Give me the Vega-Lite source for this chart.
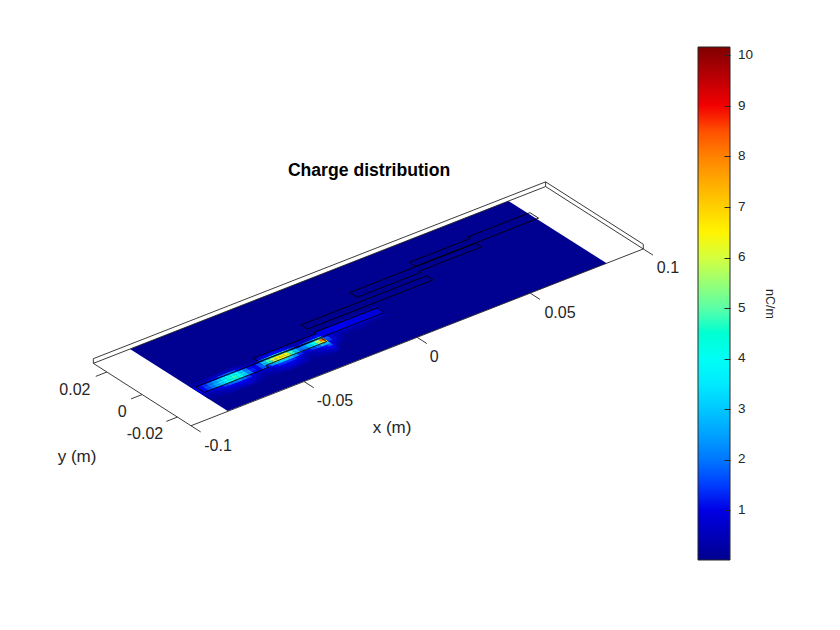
{"$schema":"https://vega.github.io/schema/vega-lite/v6.json","width":840,"height":630,"padding":0,"autosize":"none","background":"white","config":{"view":{"stroke":null}},
"title":{"text":"Charge distribution","font":"Liberation Sans","fontSize":17.6,"fontWeight":"bold","color":"black","anchor":"middle","frame":"group","dx":-51,"dy":184},
"data":{"values":[
{"k":"p","x":0,"y":0,"q":0.03},
{"k":"c","x":-0.0825,"y":-0.016,"q":0.2},{"k":"c","x":-0.0825,"y":-0.0145,"q":0.3},{"k":"c","x":-0.0825,"y":-0.013,"q":0.5},{"k":"c","x":-0.0825,"y":-0.0115,"q":1},{"k":"c","x":-0.0825,"y":-0.01,"q":1},{"k":"c","x":-0.0825,"y":-0.0085,"q":0.9},{"k":"c","x":-0.0825,"y":-0.007,"q":0.4},{"k":"c","x":-0.0825,"y":-0.0055,"q":0.2},
{"k":"c","x":-0.081,"y":-0.016,"q":0.2},{"k":"c","x":-0.081,"y":-0.0145,"q":0.3},{"k":"c","x":-0.081,"y":-0.013,"q":0.6},{"k":"c","x":-0.081,"y":-0.0115,"q":1.1},{"k":"c","x":-0.081,"y":-0.01,"q":1.2},{"k":"c","x":-0.081,"y":-0.0085,"q":1.1},{"k":"c","x":-0.081,"y":-0.007,"q":0.5},{"k":"c","x":-0.081,"y":-0.0055,"q":0.2},
{"k":"c","x":-0.079,"y":-0.0175,"q":0.2},{"k":"c","x":-0.079,"y":-0.016,"q":0.3},{"k":"c","x":-0.079,"y":-0.0145,"q":0.4},{"k":"c","x":-0.079,"y":-0.013,"q":0.7},{"k":"c","x":-0.079,"y":-0.0115,"q":1.5},{"k":"c","x":-0.079,"y":-0.01,"q":1.6},{"k":"c","x":-0.079,"y":-0.0085,"q":1.4},{"k":"c","x":-0.079,"y":-0.007,"q":0.6},{"k":"c","x":-0.079,"y":-0.0055,"q":0.2},
{"k":"c","x":-0.077,"y":-0.0175,"q":0.2},{"k":"c","x":-0.077,"y":-0.016,"q":0.4},{"k":"c","x":-0.077,"y":-0.0145,"q":0.5},{"k":"c","x":-0.077,"y":-0.013,"q":1},{"k":"c","x":-0.077,"y":-0.0115,"q":2},{"k":"c","x":-0.077,"y":-0.01,"q":2.1},{"k":"c","x":-0.077,"y":-0.0085,"q":1.9},{"k":"c","x":-0.077,"y":-0.007,"q":0.8},{"k":"c","x":-0.077,"y":-0.0055,"q":0.3},
{"k":"c","x":-0.075,"y":-0.0175,"q":0.3},{"k":"c","x":-0.075,"y":-0.016,"q":0.5},{"k":"c","x":-0.075,"y":-0.0145,"q":0.7},{"k":"c","x":-0.075,"y":-0.013,"q":1.2},{"k":"c","x":-0.075,"y":-0.0115,"q":2.6},{"k":"c","x":-0.075,"y":-0.01,"q":2.7},{"k":"c","x":-0.075,"y":-0.0085,"q":2.4},{"k":"c","x":-0.075,"y":-0.007,"q":1.1},{"k":"c","x":-0.075,"y":-0.0055,"q":0.4},
{"k":"c","x":-0.073,"y":-0.0175,"q":0.4},{"k":"c","x":-0.073,"y":-0.016,"q":0.6},{"k":"c","x":-0.073,"y":-0.0145,"q":0.9},{"k":"c","x":-0.073,"y":-0.013,"q":1.5},{"k":"c","x":-0.073,"y":-0.0115,"q":3.1},{"k":"c","x":-0.073,"y":-0.01,"q":3.3},{"k":"c","x":-0.073,"y":-0.0085,"q":3},{"k":"c","x":-0.073,"y":-0.007,"q":1.3},{"k":"c","x":-0.073,"y":-0.0055,"q":0.5},
{"k":"c","x":-0.071,"y":-0.0175,"q":0.4},{"k":"c","x":-0.071,"y":-0.016,"q":0.7},{"k":"c","x":-0.071,"y":-0.0145,"q":1},{"k":"c","x":-0.071,"y":-0.013,"q":1.8},{"k":"c","x":-0.071,"y":-0.0115,"q":3.7},{"k":"c","x":-0.071,"y":-0.01,"q":3.9},{"k":"c","x":-0.071,"y":-0.0085,"q":3.5},{"k":"c","x":-0.071,"y":-0.007,"q":1.6},{"k":"c","x":-0.071,"y":-0.0055,"q":0.6},
{"k":"c","x":-0.069,"y":-0.0175,"q":0.5},{"k":"c","x":-0.069,"y":-0.016,"q":0.8},{"k":"c","x":-0.069,"y":-0.0145,"q":1.1},{"k":"c","x":-0.069,"y":-0.013,"q":2},{"k":"c","x":-0.069,"y":-0.0115,"q":4.2},{"k":"c","x":-0.069,"y":-0.01,"q":4.4},{"k":"c","x":-0.069,"y":-0.0085,"q":4},{"k":"c","x":-0.069,"y":-0.007,"q":1.8},{"k":"c","x":-0.069,"y":-0.0055,"q":0.7},
{"k":"c","x":-0.067,"y":-0.0175,"q":0.5},{"k":"c","x":-0.067,"y":-0.016,"q":0.8},{"k":"c","x":-0.067,"y":-0.0145,"q":1.2},{"k":"c","x":-0.067,"y":-0.013,"q":2.2},{"k":"c","x":-0.067,"y":-0.0115,"q":4.5},{"k":"c","x":-0.067,"y":-0.01,"q":4.7},{"k":"c","x":-0.067,"y":-0.0085,"q":4.2},{"k":"c","x":-0.067,"y":-0.007,"q":1.9},{"k":"c","x":-0.067,"y":-0.0055,"q":0.7},
{"k":"c","x":-0.065,"y":-0.0175,"q":0.5},{"k":"c","x":-0.065,"y":-0.016,"q":0.8},{"k":"c","x":-0.065,"y":-0.0145,"q":1.1},{"k":"c","x":-0.065,"y":-0.013,"q":1.9},{"k":"c","x":-0.065,"y":-0.0115,"q":4},{"k":"c","x":-0.065,"y":-0.01,"q":4.2},{"k":"c","x":-0.065,"y":-0.0085,"q":3.8},{"k":"c","x":-0.065,"y":-0.007,"q":1.7},{"k":"c","x":-0.065,"y":-0.0055,"q":0.6},
{"k":"c","x":-0.063,"y":-0.0175,"q":0.4},{"k":"c","x":-0.063,"y":-0.016,"q":0.6},{"k":"c","x":-0.063,"y":-0.0145,"q":0.9},{"k":"c","x":-0.063,"y":-0.013,"q":1.5},{"k":"c","x":-0.063,"y":-0.0115,"q":3.1},{"k":"c","x":-0.063,"y":-0.01,"q":3.3},{"k":"c","x":-0.063,"y":-0.0085,"q":3},{"k":"c","x":-0.063,"y":-0.007,"q":1.3},{"k":"c","x":-0.063,"y":-0.0055,"q":0.5},
{"k":"c","x":-0.061,"y":-0.0175,"q":0.2},{"k":"c","x":-0.061,"y":-0.016,"q":0.4},{"k":"c","x":-0.061,"y":-0.0145,"q":0.6},{"k":"c","x":-0.061,"y":-0.013,"q":1},{"k":"c","x":-0.061,"y":-0.0115,"q":2.1},{"k":"c","x":-0.061,"y":-0.01,"q":2.2},{"k":"c","x":-0.061,"y":-0.0085,"q":2},{"k":"c","x":-0.061,"y":-0.007,"q":0.9},{"k":"c","x":-0.061,"y":-0.0055,"q":0.3},
{"k":"c","x":-0.059,"y":-0.0175,"q":0.2},{"k":"c","x":-0.059,"y":-0.016,"q":0.3},{"k":"c","x":-0.059,"y":-0.0145,"q":0.4},{"k":"c","x":-0.059,"y":-0.013,"q":0.6},{"k":"c","x":-0.059,"y":-0.0115,"q":1.3},{"k":"c","x":-0.059,"y":-0.01,"q":1.4},{"k":"c","x":-0.059,"y":-0.0085,"q":1.3},{"k":"c","x":-0.059,"y":-0.007,"q":0.6},{"k":"c","x":-0.059,"y":-0.0055,"q":0.2},
{"k":"c","x":-0.057,"y":-0.016,"q":0.2},{"k":"c","x":-0.057,"y":-0.0145,"q":0.3},{"k":"c","x":-0.057,"y":-0.013,"q":0.6},{"k":"c","x":-0.057,"y":-0.0115,"q":1.1},{"k":"c","x":-0.057,"y":-0.01,"q":1.2},{"k":"c","x":-0.057,"y":-0.0085,"q":1.1},{"k":"c","x":-0.057,"y":-0.007,"q":0.5},{"k":"c","x":-0.057,"y":-0.0055,"q":0.2},
{"k":"c","x":-0.055,"y":-0.0175,"q":0.2},{"k":"c","x":-0.055,"y":-0.016,"q":0.3},{"k":"c","x":-0.055,"y":-0.0145,"q":0.5},{"k":"c","x":-0.055,"y":-0.013,"q":0.8},{"k":"c","x":-0.055,"y":-0.0115,"q":1.7},{"k":"c","x":-0.055,"y":-0.01,"q":1.8},{"k":"c","x":-0.055,"y":-0.0085,"q":1.6},{"k":"c","x":-0.055,"y":-0.007,"q":0.7},{"k":"c","x":-0.055,"y":-0.0055,"q":0.3},
{"k":"c","x":-0.053,"y":-0.0175,"q":0.2},{"k":"c","x":-0.053,"y":-0.016,"q":0.4},{"k":"c","x":-0.053,"y":-0.0145,"q":0.5},{"k":"c","x":-0.053,"y":-0.013,"q":0.7},{"k":"c","x":-0.053,"y":-0.0115,"q":1.4},{"k":"c","x":-0.053,"y":-0.01,"q":2.9},{"k":"c","x":-0.053,"y":-0.0085,"q":3},{"k":"c","x":-0.053,"y":-0.007,"q":1.8},{"k":"c","x":-0.053,"y":-0.0055,"q":0.6},{"k":"c","x":-0.053,"y":-0.004,"q":0.3},
{"k":"c","x":-0.051,"y":-0.0175,"q":0.3},{"k":"c","x":-0.051,"y":-0.016,"q":0.6},{"k":"c","x":-0.051,"y":-0.0145,"q":0.8},{"k":"c","x":-0.051,"y":-0.013,"q":1.1},{"k":"c","x":-0.051,"y":-0.0115,"q":2.3},{"k":"c","x":-0.051,"y":-0.01,"q":4.6},{"k":"c","x":-0.051,"y":-0.0085,"q":4.8},{"k":"c","x":-0.051,"y":-0.007,"q":2.9},{"k":"c","x":-0.051,"y":-0.0055,"q":1},{"k":"c","x":-0.051,"y":-0.004,"q":0.5},
{"k":"c","x":-0.049,"y":-0.0175,"q":0.4},{"k":"c","x":-0.049,"y":-0.016,"q":0.7},{"k":"c","x":-0.049,"y":-0.0145,"q":1},{"k":"c","x":-0.049,"y":-0.013,"q":1.4},{"k":"c","x":-0.049,"y":-0.0115,"q":2.8},{"k":"c","x":-0.049,"y":-0.01,"q":5.7},{"k":"c","x":-0.049,"y":-0.0085,"q":6},{"k":"c","x":-0.049,"y":-0.007,"q":3.6},{"k":"c","x":-0.049,"y":-0.0055,"q":1.2},{"k":"c","x":-0.049,"y":-0.004,"q":0.6},
{"k":"c","x":-0.047,"y":-0.0175,"q":0.5},{"k":"c","x":-0.047,"y":-0.016,"q":0.8},{"k":"c","x":-0.047,"y":-0.0145,"q":1.1},{"k":"c","x":-0.047,"y":-0.013,"q":1.5},{"k":"c","x":-0.047,"y":-0.0115,"q":3.1},{"k":"c","x":-0.047,"y":-0.01,"q":6.2},{"k":"c","x":-0.047,"y":-0.0085,"q":6.5},{"k":"c","x":-0.047,"y":-0.007,"q":3.9},{"k":"c","x":-0.047,"y":-0.0055,"q":1.3},{"k":"c","x":-0.047,"y":-0.004,"q":0.7},
{"k":"c","x":-0.045,"y":-0.0175,"q":0.5},{"k":"c","x":-0.045,"y":-0.016,"q":0.8},{"k":"c","x":-0.045,"y":-0.0145,"q":1.1},{"k":"c","x":-0.045,"y":-0.013,"q":1.5},{"k":"c","x":-0.045,"y":-0.0115,"q":3.1},{"k":"c","x":-0.045,"y":-0.01,"q":6.4},{"k":"c","x":-0.045,"y":-0.0085,"q":6.7},{"k":"c","x":-0.045,"y":-0.007,"q":4},{"k":"c","x":-0.045,"y":-0.0055,"q":1.3},{"k":"c","x":-0.045,"y":-0.004,"q":0.7},
{"k":"c","x":-0.043,"y":-0.0175,"q":0.4},{"k":"c","x":-0.043,"y":-0.016,"q":0.7},{"k":"c","x":-0.043,"y":-0.0145,"q":1},{"k":"c","x":-0.043,"y":-0.013,"q":1.4},{"k":"c","x":-0.043,"y":-0.0115,"q":2.9},{"k":"c","x":-0.043,"y":-0.01,"q":5.9},{"k":"c","x":-0.043,"y":-0.0085,"q":6.2},{"k":"c","x":-0.043,"y":-0.007,"q":3.7},{"k":"c","x":-0.043,"y":-0.0055,"q":1.2},{"k":"c","x":-0.043,"y":-0.004,"q":0.6},
{"k":"c","x":-0.041,"y":-0.0175,"q":0.3},{"k":"c","x":-0.041,"y":-0.016,"q":0.6},{"k":"c","x":-0.041,"y":-0.0145,"q":0.8},{"k":"c","x":-0.041,"y":-0.013,"q":1.1},{"k":"c","x":-0.041,"y":-0.0115,"q":2.3},{"k":"c","x":-0.041,"y":-0.01,"q":4.6},{"k":"c","x":-0.041,"y":-0.0085,"q":4.8},{"k":"c","x":-0.041,"y":-0.007,"q":2.9},{"k":"c","x":-0.041,"y":-0.0055,"q":1},{"k":"c","x":-0.041,"y":-0.004,"q":0.5},
{"k":"c","x":-0.039,"y":-0.0175,"q":0.2},{"k":"c","x":-0.039,"y":-0.016,"q":0.4},{"k":"c","x":-0.039,"y":-0.0145,"q":0.5},{"k":"c","x":-0.039,"y":-0.013,"q":0.7},{"k":"c","x":-0.039,"y":-0.0115,"q":1.4},{"k":"c","x":-0.039,"y":-0.01,"q":2.9},{"k":"c","x":-0.039,"y":-0.0085,"q":3},{"k":"c","x":-0.039,"y":-0.007,"q":1.8},{"k":"c","x":-0.039,"y":-0.0055,"q":0.6},{"k":"c","x":-0.039,"y":-0.004,"q":0.3},
{"k":"c","x":-0.037,"y":-0.016,"q":0.2},{"k":"c","x":-0.037,"y":-0.0145,"q":0.3},{"k":"c","x":-0.037,"y":-0.013,"q":0.5},{"k":"c","x":-0.037,"y":-0.0115,"q":0.9},{"k":"c","x":-0.037,"y":-0.01,"q":1.9},{"k":"c","x":-0.037,"y":-0.0085,"q":2},{"k":"c","x":-0.037,"y":-0.007,"q":1.2},{"k":"c","x":-0.037,"y":-0.0055,"q":0.4},{"k":"c","x":-0.037,"y":-0.004,"q":0.2},
{"k":"c","x":-0.035,"y":-0.0175,"q":0.2},{"k":"c","x":-0.035,"y":-0.016,"q":0.3},{"k":"c","x":-0.035,"y":-0.0145,"q":0.4},{"k":"c","x":-0.035,"y":-0.013,"q":0.5},{"k":"c","x":-0.035,"y":-0.0115,"q":1.1},{"k":"c","x":-0.035,"y":-0.01,"q":2.2},{"k":"c","x":-0.035,"y":-0.0085,"q":2.3},{"k":"c","x":-0.035,"y":-0.007,"q":1.4},{"k":"c","x":-0.035,"y":-0.0055,"q":0.5},{"k":"c","x":-0.035,"y":-0.004,"q":0.2},
{"k":"c","x":-0.033,"y":-0.0175,"q":0.2},{"k":"c","x":-0.033,"y":-0.016,"q":0.4},{"k":"c","x":-0.033,"y":-0.0145,"q":0.5},{"k":"c","x":-0.033,"y":-0.013,"q":0.7},{"k":"c","x":-0.033,"y":-0.0115,"q":1.5},{"k":"c","x":-0.033,"y":-0.01,"q":3},{"k":"c","x":-0.033,"y":-0.0085,"q":3.2},{"k":"c","x":-0.033,"y":-0.007,"q":1.9},{"k":"c","x":-0.033,"y":-0.0055,"q":0.6},{"k":"c","x":-0.033,"y":-0.004,"q":0.3},
{"k":"c","x":-0.031,"y":-0.0175,"q":0.3},{"k":"c","x":-0.031,"y":-0.016,"q":0.5},{"k":"c","x":-0.031,"y":-0.0145,"q":0.7},{"k":"c","x":-0.031,"y":-0.013,"q":0.9},{"k":"c","x":-0.031,"y":-0.0115,"q":1.9},{"k":"c","x":-0.031,"y":-0.01,"q":3.8},{"k":"c","x":-0.031,"y":-0.0085,"q":4},{"k":"c","x":-0.031,"y":-0.007,"q":2.4},{"k":"c","x":-0.031,"y":-0.0055,"q":0.8},{"k":"c","x":-0.031,"y":-0.004,"q":0.4},
{"k":"c","x":-0.029,"y":-0.0175,"q":0.4},{"k":"c","x":-0.029,"y":-0.016,"q":0.7},{"k":"c","x":-0.029,"y":-0.0145,"q":1},{"k":"c","x":-0.029,"y":-0.013,"q":1.3},{"k":"c","x":-0.029,"y":-0.0115,"q":2.7},{"k":"c","x":-0.029,"y":-0.01,"q":5.5},{"k":"c","x":-0.029,"y":-0.0085,"q":5.8},{"k":"c","x":-0.029,"y":-0.007,"q":3.5},{"k":"c","x":-0.029,"y":-0.0055,"q":1.2},{"k":"c","x":-0.029,"y":-0.004,"q":0.6},
{"k":"c","x":-0.027,"y":-0.0175,"q":0.4},{"k":"c","x":-0.027,"y":-0.016,"q":0.8},{"k":"c","x":-0.027,"y":-0.0145,"q":1.1},{"k":"c","x":-0.027,"y":-0.013,"q":1.6},{"k":"c","x":-0.027,"y":-0.0115,"q":2.8},{"k":"c","x":-0.027,"y":-0.01,"q":6.8},{"k":"c","x":-0.027,"y":-0.0085,"q":8.2},{"k":"c","x":-0.027,"y":-0.007,"q":4.2},{"k":"c","x":-0.027,"y":-0.0055,"q":1.3},{"k":"c","x":-0.027,"y":-0.004,"q":0.6},
{"k":"c","x":-0.025,"y":-0.0145,"q":0.5},{"k":"c","x":-0.025,"y":-0.013,"q":0.7},{"k":"c","x":-0.025,"y":-0.0115,"q":1},{"k":"c","x":-0.025,"y":-0.01,"q":1.5},{"k":"c","x":-0.025,"y":-0.0085,"q":1.7},{"k":"c","x":-0.025,"y":-0.007,"q":1.3},{"k":"c","x":-0.025,"y":-0.0055,"q":1.1},{"k":"c","x":-0.025,"y":-0.004,"q":1.1},
{"k":"c","x":-0.023,"y":-0.013,"q":0.4},{"k":"c","x":-0.023,"y":-0.0115,"q":0.6},{"k":"c","x":-0.023,"y":-0.01,"q":0.8},{"k":"c","x":-0.023,"y":-0.0085,"q":0.8},{"k":"c","x":-0.023,"y":-0.007,"q":0.8},{"k":"c","x":-0.023,"y":-0.0055,"q":1.1},{"k":"c","x":-0.023,"y":-0.004,"q":1.1},
{"k":"c","x":-0.021,"y":-0.013,"q":0.2},{"k":"c","x":-0.021,"y":-0.0115,"q":0.3},{"k":"c","x":-0.021,"y":-0.01,"q":0.5},{"k":"c","x":-0.021,"y":-0.0085,"q":0.6},{"k":"c","x":-0.021,"y":-0.007,"q":0.8},{"k":"c","x":-0.021,"y":-0.0055,"q":1.2},{"k":"c","x":-0.021,"y":-0.004,"q":1.2},
{"k":"c","x":-0.019,"y":-0.01,"q":0.2},{"k":"c","x":-0.019,"y":-0.0085,"q":0.4},{"k":"c","x":-0.019,"y":-0.007,"q":1.1},{"k":"c","x":-0.019,"y":-0.0055,"q":1.2},{"k":"c","x":-0.019,"y":-0.004,"q":1.2},{"k":"c","x":-0.019,"y":-0.0025,"q":0.4},
{"k":"c","x":-0.017,"y":-0.01,"q":0.2},{"k":"c","x":-0.017,"y":-0.0085,"q":0.4},{"k":"c","x":-0.017,"y":-0.007,"q":1.1},{"k":"c","x":-0.017,"y":-0.0055,"q":1.2},{"k":"c","x":-0.017,"y":-0.004,"q":1.2},{"k":"c","x":-0.017,"y":-0.0025,"q":0.4},
{"k":"c","x":-0.015,"y":-0.01,"q":0.2},{"k":"c","x":-0.015,"y":-0.0085,"q":0.4},{"k":"c","x":-0.015,"y":-0.007,"q":1.1},{"k":"c","x":-0.015,"y":-0.0055,"q":1.2},{"k":"c","x":-0.015,"y":-0.004,"q":1.2},{"k":"c","x":-0.015,"y":-0.0025,"q":0.4},
{"k":"c","x":-0.013,"y":-0.01,"q":0.2},{"k":"c","x":-0.013,"y":-0.0085,"q":0.4},{"k":"c","x":-0.013,"y":-0.007,"q":1},{"k":"c","x":-0.013,"y":-0.0055,"q":1.1},{"k":"c","x":-0.013,"y":-0.004,"q":1.1},{"k":"c","x":-0.013,"y":-0.0025,"q":0.4},
{"k":"c","x":-0.011,"y":-0.01,"q":0.2},{"k":"c","x":-0.011,"y":-0.0085,"q":0.4},{"k":"c","x":-0.011,"y":-0.007,"q":1},{"k":"c","x":-0.011,"y":-0.0055,"q":1.1},{"k":"c","x":-0.011,"y":-0.004,"q":1.1},{"k":"c","x":-0.011,"y":-0.0025,"q":0.4},
{"k":"c","x":-0.009,"y":-0.01,"q":0.2},{"k":"c","x":-0.009,"y":-0.0085,"q":0.4},{"k":"c","x":-0.009,"y":-0.007,"q":1},{"k":"c","x":-0.009,"y":-0.0055,"q":1.1},{"k":"c","x":-0.009,"y":-0.004,"q":1.1},{"k":"c","x":-0.009,"y":-0.0025,"q":0.4},
{"k":"c","x":-0.007,"y":-0.0085,"q":0.3},{"k":"c","x":-0.007,"y":-0.007,"q":0.9},{"k":"c","x":-0.007,"y":-0.0055,"q":1},{"k":"c","x":-0.007,"y":-0.004,"q":1},{"k":"c","x":-0.007,"y":-0.0025,"q":0.4},
{"k":"c","x":-0.005,"y":-0.0085,"q":0.3},{"k":"c","x":-0.005,"y":-0.007,"q":0.9},{"k":"c","x":-0.005,"y":-0.0055,"q":1},{"k":"c","x":-0.005,"y":-0.004,"q":1},{"k":"c","x":-0.005,"y":-0.0025,"q":0.4},
{"k":"c","x":-0.003,"y":-0.0085,"q":0.3},{"k":"c","x":-0.003,"y":-0.007,"q":0.9},{"k":"c","x":-0.003,"y":-0.0055,"q":1},{"k":"c","x":-0.003,"y":-0.004,"q":1},{"k":"c","x":-0.003,"y":-0.0025,"q":0.4},
{"k":"c","x":-0.001,"y":-0.0085,"q":0.3},{"k":"c","x":-0.001,"y":-0.007,"q":0.8},{"k":"c","x":-0.001,"y":-0.0055,"q":0.9},{"k":"c","x":-0.001,"y":-0.004,"q":0.9},{"k":"c","x":-0.001,"y":-0.0025,"q":0.3},
{"k":"c","x":0.001,"y":-0.0085,"q":0.2},{"k":"c","x":0.001,"y":-0.007,"q":0.7},{"k":"c","x":0.001,"y":-0.0055,"q":0.9},{"k":"c","x":0.001,"y":-0.004,"q":0.9},{"k":"c","x":0.001,"y":-0.0025,"q":0.3},
{"k":"o","g":"A","i":0,"x":-0.082,"y":-0.0073},{"k":"o","g":"A","i":1,"x":-0.0266,"y":-0.0073},{"k":"o","g":"A","i":2,"x":-0.0266,"y":-0.0105},{"k":"o","g":"A","i":3,"x":-0.0535,"y":-0.0105},{"k":"o","g":"A","i":4,"x":-0.0535,"y":-0.0122},{"k":"o","g":"A","i":5,"x":-0.082,"y":-0.0122},{"k":"o","g":"A","i":6,"x":-0.082,"y":-0.0073},
{"k":"o","g":"B","i":0,"x":-0.054,"y":-0.007},{"k":"o","g":"B","i":1,"x":0.0017,"y":-0.007},{"k":"o","g":"B","i":2,"x":0.0017,"y":-0.0028},{"k":"o","g":"B","i":3,"x":-0.0263,"y":-0.0028},{"k":"o","g":"B","i":4,"x":-0.0263,"y":-0.0038},{"k":"o","g":"B","i":5,"x":-0.054,"y":-0.0038},{"k":"o","g":"B","i":6,"x":-0.054,"y":-0.007},
{"k":"o","g":"C","i":0,"x":-0.0265,"y":0.0005},{"k":"o","g":"C","i":1,"x":0.029,"y":0.0005},{"k":"o","g":"C","i":2,"x":0.029,"y":0.0042},{"k":"o","g":"C","i":3,"x":-0.0265,"y":0.0042},{"k":"o","g":"C","i":4,"x":-0.0265,"y":0.0005},
{"k":"o","g":"D","i":0,"x":0.0565,"y":0.0115},{"k":"o","g":"D","i":1,"x":0.0008,"y":0.0115},{"k":"o","g":"D","i":2,"x":0.0008,"y":0.0073},{"k":"o","g":"D","i":3,"x":0.0288,"y":0.0073},{"k":"o","g":"D","i":4,"x":0.0288,"y":0.0083},{"k":"o","g":"D","i":5,"x":0.0565,"y":0.0083},{"k":"o","g":"D","i":6,"x":0.0565,"y":0.0115},
{"k":"o","g":"E","i":0,"x":0.0845,"y":0.0118},{"k":"o","g":"E","i":1,"x":0.03,"y":0.0118},{"k":"o","g":"E","i":2,"x":0.03,"y":0.0153},{"k":"o","g":"E","i":3,"x":0.057,"y":0.0153},{"k":"o","g":"E","i":4,"x":0.057,"y":0.0167},{"k":"o","g":"E","i":5,"x":0.0845,"y":0.0167},{"k":"o","g":"E","i":6,"x":0.0845,"y":0.0118},
{"k":"b","g":"base","i":0,"x":-0.1,"y":0.0277,"z":0},{"k":"b","g":"base","i":1,"x":-0.1,"y":-0.0277,"z":0},{"k":"b","g":"base","i":2,"x":0.1,"y":-0.0277,"z":0},{"k":"b","g":"base","i":3,"x":0.1,"y":0.0277,"z":0},{"k":"b","g":"base","i":4,"x":-0.1,"y":0.0277,"z":0},
{"k":"b","g":"top","i":0,"x":-0.1,"y":0.0277,"z":1},{"k":"b","g":"top","i":1,"x":0.1,"y":0.0277,"z":1},{"k":"b","g":"top","i":2,"x":0.1,"y":-0.0277,"z":1},
{"k":"b","g":"v1","i":0,"x":-0.1,"y":0.0277,"z":0},{"k":"b","g":"v1","i":1,"x":-0.1,"y":0.0277,"z":1},
{"k":"b","g":"v2","i":0,"x":0.1,"y":0.0277,"z":0},{"k":"b","g":"v2","i":1,"x":0.1,"y":0.0277,"z":1},
{"k":"b","g":"v3","i":0,"x":0.1,"y":-0.0277,"z":0},{"k":"b","g":"v3","i":1,"x":0.1,"y":-0.0277,"z":1},
{"k":"b","g":"tx1","i":0,"x":-0.1,"y":-0.0277},{"k":"b","g":"tx1","i":1,"x":-0.1,"y":-0.0332},
{"k":"b","g":"tx2","i":0,"x":-0.05,"y":-0.0277},{"k":"b","g":"tx2","i":1,"x":-0.05,"y":-0.0332},
{"k":"b","g":"tx3","i":0,"x":0,"y":-0.0277},{"k":"b","g":"tx3","i":1,"x":0,"y":-0.0332},
{"k":"b","g":"tx4","i":0,"x":0.05,"y":-0.0277},{"k":"b","g":"tx4","i":1,"x":0.05,"y":-0.0332},
{"k":"b","g":"tx5","i":0,"x":0.1,"y":-0.0277},{"k":"b","g":"tx5","i":1,"x":0.1,"y":-0.0332},
{"k":"b","g":"ty1","i":0,"x":-0.1,"y":0.02},{"k":"b","g":"ty1","i":1,"x":-0.1049,"y":0.02},
{"k":"b","g":"ty2","i":0,"x":-0.1,"y":0},{"k":"b","g":"ty2","i":1,"x":-0.1049,"y":0},
{"k":"b","g":"ty3","i":0,"x":-0.1,"y":-0.02},{"k":"b","g":"ty3","i":1,"x":-0.1049,"y":-0.02},
{"k":"t","x":-0.1013,"y":-0.0447,"t":"-0.1"},{"k":"t","x":-0.0499,"y":-0.0451,"t":"-0.05"},{"k":"t","x":-0.0038,"y":-0.0422,"t":"0"},{"k":"t","x":0.0496,"y":-0.0451,"t":"0.05"},{"k":"t","x":0.0986,"y":-0.0435,"t":"0.1"},
{"k":"t","x":-0.1165,"y":0.017,"t":"0.02"},{"k":"t","x":-0.113,"y":-0.0053,"t":"0"},{"k":"t","x":-0.1162,"y":-0.0224,"t":"-0.02"},
{"k":"a","x":-0.0458,"y":-0.0722,"t":"x (m)"},{"k":"a","x":-0.1447,"y":-0.0204,"t":"y (m)"}
]},
"transform":[{"calculate":"368.3+2261.5*datum.x-1763*datum.y","as":"sx"},{"calculate":"306.15-884*datum.x-1126*datum.y-4.7*(datum.z||0)","as":"sy"}],
"encoding":{"x":{"field":"sx","type":"quantitative","axis":null,"scale":{"domain":[0,840],"nice":false,"zero":false}},"y":{"field":"sy","type":"quantitative","scale":{"domain":[630,0],"nice":false,"zero":false},"axis":{"orient":"right","offset":-116,"zindex":1,"domain":false,"grid":false,"labels":false,"title":null,"ticks":true,"tickSize":6,"tickWidth":1,"tickColor":"#262626","values":[510.25,459.7,409.15,358.6,308.05,257.5,206.95,156.4,105.85,55.3]}}},
"layer":[
{"transform":[{"filter":"datum.k==='p'"}],"mark":{"type":"point","shape":"M-238.3 42.85L-140.6 104.85L238.4 -42.85L140.2 -105.15Z","size":4,"filled":true,"opacity":1},
"encoding":{"color":{"field":"q","type":"quantitative","scale":{"domain":[0.01,1.28,3.82,6.35,8.89,10.16],"range":["#00008f","#0000ff","#00ffff","#ffff00","#ff0000","#800000"]}}}},
{"transform":[{"filter":"datum.k==='c'"}],"mark":{"type":"point","shape":"M.938 -1.729L3.582 -.039L-.938 1.729L-3.582 .039Z","size":4.3,"filled":true,"opacity":1},
"encoding":{"color":{"field":"q","type":"quantitative","scale":{"domain":[0.01,1.28,3.82,6.35,8.89,10.16],"range":["#00008f","#0000ff","#00ffff","#ffff00","#ff0000","#800000"]},
"legend":{"orient":"none","legendX":698,"legendY":47,"direction":"vertical","gradientLength":513,"gradientThickness":32,"values":[1,2,3,4,5,6,7,8,9,10],"labelFont":"Liberation Sans","labelFontSize":13.5,"labelColor":"#262626","labelOffset":8,"gradientStrokeColor":"#262626","gradientStrokeWidth":1,"title":"nC/m","titleOrient":"right","titleAngle":270,"titleAnchor":"middle","titleFont":"Liberation Sans","titleFontSize":12.5,"titleFontWeight":"normal","titleColor":"#262626","titlePadding":10}}}},
{"transform":[{"filter":"datum.k==='o'"}],"mark":{"type":"line","color":"#000000","strokeWidth":0.85},"encoding":{"detail":{"field":"g"},"order":{"field":"i","type":"quantitative"}}},
{"transform":[{"filter":"datum.k==='b'"}],"mark":{"type":"line","color":"#262626","strokeWidth":0.9},"encoding":{"detail":{"field":"g"},"order":{"field":"i","type":"quantitative"}}},
{"transform":[{"filter":"datum.k==='t'"}],"mark":{"type":"text","font":"Liberation Sans","fontSize":16,"color":"#262626","align":"center","baseline":"middle"},"encoding":{"text":{"field":"t"}}},
{"transform":[{"filter":"datum.k==='a'"}],"mark":{"type":"text","font":"Liberation Sans","fontSize":17,"color":"#262626","align":"center","baseline":"middle"},"encoding":{"text":{"field":"t"}}}
]}
